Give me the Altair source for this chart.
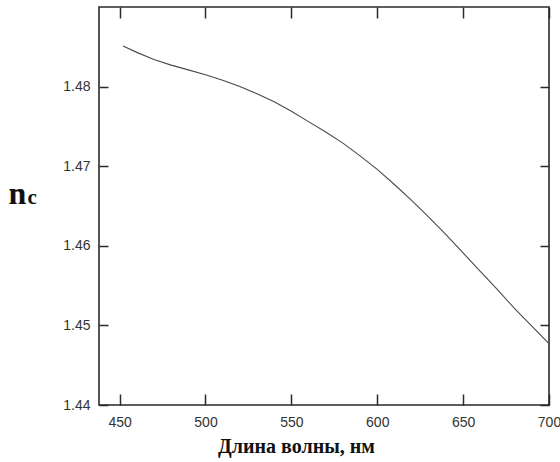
import altair as alt
import pandas as pd

# Refractive index of the cladding vs. wavelength
wavelength_nm = [452, 460, 470, 480, 490, 500, 510, 520, 530, 540, 550, 560, 570,
                 580, 590, 600, 610, 620, 630, 640, 650, 660, 670, 680, 690, 700]
n_c = [1.4851, 1.4843, 1.4834, 1.4827, 1.4821, 1.4815, 1.4808, 1.4800, 1.4791,
       1.4781, 1.4769, 1.4756, 1.4743, 1.4729, 1.4713, 1.4696, 1.4677, 1.4657,
       1.4636, 1.4614, 1.4591, 1.4568, 1.4545, 1.4521, 1.4499, 1.4477]

x_ticks = [450, 500, 550, 600, 650, 700]
y_ticks = [1.44, 1.45, 1.46, 1.47, 1.48]

df = pd.DataFrame({"wl": wavelength_nm, "n": n_c})

x_scale = alt.Scale(domain=[438, 700], nice=False, zero=False)
y_scale = alt.Scale(domain=[1.44, 1.49], nice=False, zero=False)

LABEL_FONT = "Liberation Sans"
TITLE_FONT = "Liberation Serif"
INK = "#2a2a2a"

base = alt.Chart(df)

# Labels and titles (no ticks, no domain; the frame is the view stroke)
main_x = alt.Axis(
    orient="bottom", values=x_ticks, ticks=False, tickSize=0, domain=False, grid=False,
    labelFont=LABEL_FONT, labelFontSize=14, labelColor="#333", labelPadding=10,
    labelFlush=False, labelOverlap=False, format="d",
    title="Длина волны, нм", titleFont=TITLE_FONT, titleFontSize=20,
    titleFontWeight="bold", titleColor="#111", titleAnchor="start",
    titleAlign="center", titleBaseline="alphabetic", titleX=197, titleY=47,
)
main_y = alt.Axis(
    orient="left", values=y_ticks, ticks=False, tickSize=0, domain=False, grid=False,
    labelFont=LABEL_FONT, labelFontSize=14, labelColor="#333", labelPadding=9,
    labelFlush=False, labelOverlap=False, format=".2f",
    title="n", titleFont=TITLE_FONT, titleFontSize=32, titleFontWeight="bold",
    titleColor="#111", titleAngle=0, titleAlign="left", titleBaseline="alphabetic",
    titleX=-91, titleY=196,
)

line = base.mark_line(color="#4a4a4a", strokeWidth=1.1).encode(
    x=alt.X("wl:Q", scale=x_scale, axis=main_x),
    y=alt.Y("n:Q", scale=y_scale, axis=main_y),
)


def tick_axis(orient, values, size, title=None, **kw):
    opts = dict(
        orient=orient, values=values, ticks=True, tickSize=size, tickColor=INK,
        tickWidth=1.5, domain=False, grid=False, labels=False, offset=-size,
    )
    if title:
        opts.update(title=title, **kw)
    else:
        opts.update(title=None)
    return alt.Axis(**opts)


# Inward ticks on the bottom/left edges
ticks_bl = base.mark_line(opacity=0).encode(
    x=alt.X("wl:Q", scale=x_scale, axis=tick_axis("bottom", x_ticks, 11)),
    y=alt.Y("n:Q", scale=y_scale, axis=tick_axis(
        "left", y_ticks, 9, title="c", titleFont=TITLE_FONT, titleFontSize=21,
        titleFontWeight="bold", titleColor="#111", titleAngle=0,
        titleAlign="left", titleBaseline="alphabetic", titleX=-81, titleY=196)),
)

# Inward ticks on the top/right edges
ticks_tr = base.mark_line(opacity=0).encode(
    x=alt.X("wl:Q", scale=x_scale, axis=tick_axis("top", x_ticks, 11)),
    y=alt.Y("n:Q", scale=y_scale, axis=tick_axis("right", y_ticks, 9)),
)

chart = (
    alt.layer(line, ticks_bl, ticks_tr)
    .resolve_axis(x="independent", y="independent")
    .properties(
        width=450, height=398,
        autosize=alt.AutoSizeParams(type="none"),
        padding={"left": 99, "top": 7, "right": 11, "bottom": 57},
        background="white",
    )
    .configure_view(stroke=INK, strokeWidth=1.6)
)

chart.save("out.html", embed_options={"renderer": "svg", "actions": False})
